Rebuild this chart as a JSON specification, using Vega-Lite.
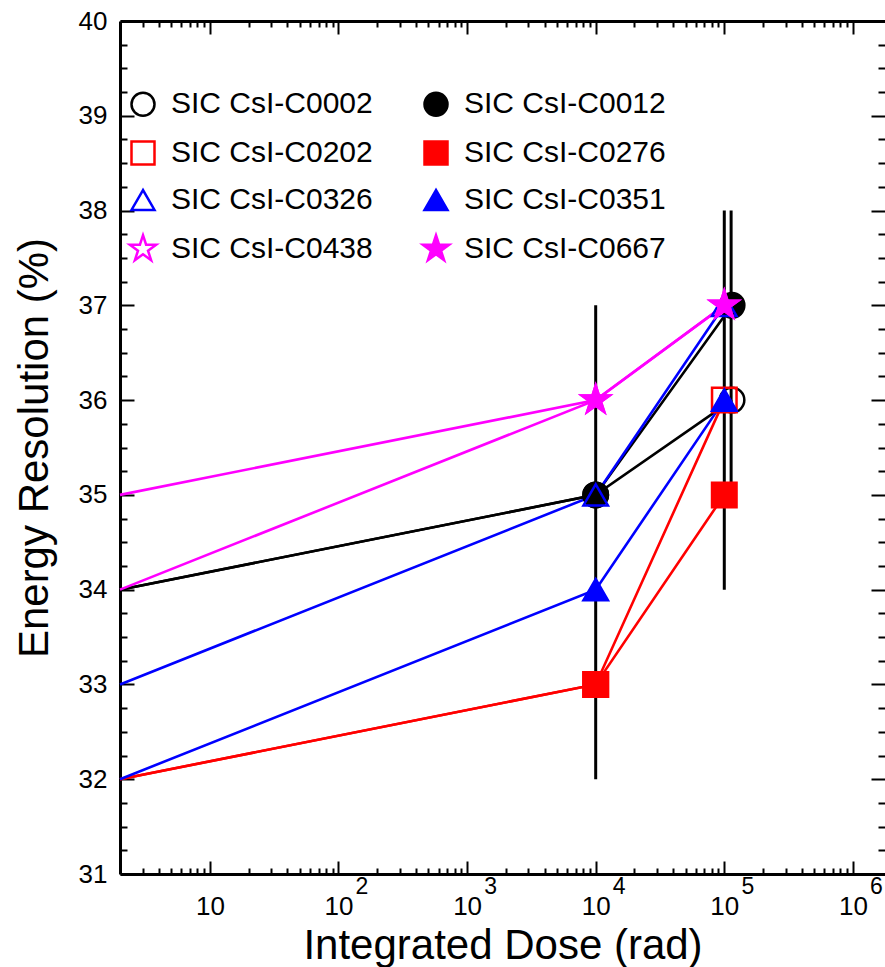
{
  "$schema": "https://vega.github.io/schema/vega-lite/v6.json",
  "autosize": "none",
  "width": 765,
  "height": 853,
  "padding": {"left": 120, "top": 21, "right": 0, "bottom": 93},
  "background": "white",
  "config": {
    "font": "Liberation Sans",
    "view": {"stroke": null},
    "axis": {
      "labelFont": "Liberation Sans",
      "titleFont": "Liberation Sans",
      "labelColor": "black",
      "titleColor": "black",
      "tickColor": "black",
      "domainColor": "black",
      "grid": false,
      "labelFlush": false,
      "labelOverlap": false,
      "labelBound": false,
      "titleFontWeight": "normal"
    },
    "legend": {"orient": "none", "legendX": 8, "legendY": 68, "columns": 2, "title": null, "labelFontSize": 30, "labelFont": "Liberation Sans", "labelColor": "black", "labelLimit": 400, "symbolSize": 529, "symbolStrokeWidth": 2.5, "labelOffset": 13, "rowPadding": 15, "columnPadding": 44, "padding": 0}
  },
  "datasets": {
    "pts": [
      {"series": "SIC CsI-C0002", "dose": 2, "res": 34},
      {"series": "SIC CsI-C0002", "dose": 10000, "res": 35},
      {"series": "SIC CsI-C0002", "dose": 115000, "res": 36},
      {"series": "SIC CsI-C0012", "dose": 2, "res": 34},
      {"series": "SIC CsI-C0012", "dose": 10000, "res": 35},
      {"series": "SIC CsI-C0012", "dose": 115000, "res": 37},
      {"series": "SIC CsI-C0202", "dose": 2, "res": 32},
      {"series": "SIC CsI-C0202", "dose": 10000, "res": 33},
      {"series": "SIC CsI-C0202", "dose": 100000, "res": 36},
      {"series": "SIC CsI-C0276", "dose": 2, "res": 32},
      {"series": "SIC CsI-C0276", "dose": 10000, "res": 33},
      {"series": "SIC CsI-C0276", "dose": 100000, "res": 35},
      {"series": "SIC CsI-C0326", "dose": 2, "res": 33},
      {"series": "SIC CsI-C0326", "dose": 10000, "res": 35},
      {"series": "SIC CsI-C0326", "dose": 100000, "res": 37},
      {"series": "SIC CsI-C0351", "dose": 2, "res": 32},
      {"series": "SIC CsI-C0351", "dose": 10000, "res": 34},
      {"series": "SIC CsI-C0351", "dose": 100000, "res": 36},
      {"series": "SIC CsI-C0438", "dose": 2, "res": 35},
      {"series": "SIC CsI-C0438", "dose": 10000, "res": 36},
      {"series": "SIC CsI-C0438", "dose": 100000, "res": 37},
      {"series": "SIC CsI-C0667", "dose": 2, "res": 34},
      {"series": "SIC CsI-C0667", "dose": 10000, "res": 36},
      {"series": "SIC CsI-C0667", "dose": 100000, "res": 37}
    ],
    "err": [
      {"dose": 10000, "lo": 32, "hi": 37},
      {"dose": 100000, "lo": 34, "hi": 38},
      {"dose": 113000, "lo": 35, "hi": 38}
    ]
  },
  "layer": [
    {
      "data": {"name": "err"},
      "mark": {"type": "rule", "strokeWidth": 3, "color": "black"},
      "encoding": {
        "x": {
          "field": "dose", "type": "quantitative",
          "scale": {"type": "log", "domain": [2, 1777000], "nice": false},
          "axis": {
            "orient": "bottom",
            "values": [10, 100, 1000, 10000, 100000, 1000000],
            "tickSize": -13, "tickWidth": 2, "domainWidth": 3,
            "labelExpr": "'10'", "labelFontSize": 26, "labelPadding": 32,
            "title": "Integrated Dose (rad)", "titleFontSize": 42, "titlePadding": 6
          }
        },
        "y": {
          "field": "lo", "type": "quantitative",
          "scale": {"domain": [31, 40], "nice": false, "zero": false},
          "axis": {
            "orient": "left",
            "values": [31, 32, 33, 34, 35, 36, 37, 38, 39, 40],
            "tickSize": -14, "tickWidth": 2, "domainWidth": 3,
            "labelFontSize": 26, "labelPadding": 27,
            "title": "Energy Resolution (%)", "titleFontSize": 42, "titlePadding": 22
          }
        },
        "y2": {"field": "hi"}
      }
    },
    {
      "data": {"name": "pts"},
      "mark": {"type": "line", "strokeWidth": 2.6},
      "encoding": {
        "x": {
          "field": "dose", "type": "quantitative",
          "scale": {"type": "log", "domain": [2, 1777000], "nice": false},
          "axis": {
            "orient": "bottom",
            "values": [3,4,5,6,7,8,9,20,30,40,50,60,70,80,90,200,300,400,500,600,700,800,900,2000,3000,4000,5000,6000,7000,8000,9000,20000,30000,40000,50000,60000,70000,80000,90000,200000,300000,400000,500000,600000,700000,800000,900000],
            "tickSize": -6, "tickWidth": 2, "labels": false, "domain": false, "title": null
          }
        },
        "y": {
          "field": "res", "type": "quantitative",
          "scale": {"domain": [31, 40], "nice": false, "zero": false},
          "axis": {
            "orient": "left",
            "values": [31.25,31.5,31.75,32.25,32.5,32.75,33.25,33.5,33.75,34.25,34.5,34.75,35.25,35.5,35.75,36.25,36.5,36.75,37.25,37.5,37.75,38.25,38.5,38.75,39.25,39.5,39.75],
            "tickSize": -7, "tickWidth": 2, "labels": false, "domain": false, "title": null
          }
        },
        "stroke": {
          "field": "series", "type": "nominal",
          "scale": {
            "domain": ["SIC CsI-C0002","SIC CsI-C0202","SIC CsI-C0326","SIC CsI-C0438","SIC CsI-C0012","SIC CsI-C0276","SIC CsI-C0351","SIC CsI-C0667"],
            "range": ["#000000","#ff0000","#0000ff","#ff00ff","#000000","#ff0000","#0000ff","#ff00ff"]
          }
        }
      }
    },
    {
      "data": {"name": "pts"},
      "transform": [{"filter": "datum.dose > 2"}],
      "mark": {"type": "point", "size": 600, "strokeWidth": 2.5, "opacity": 1},
      "encoding": {
        "x": {
          "field": "dose", "type": "quantitative",
          "scale": {"type": "log", "domain": [2, 1777000], "nice": false},
          "axis": {
            "orient": "bottom",
            "values": [100, 1000, 10000, 100000, 1000000],
            "ticks": false, "domain": false,
            "labelExpr": "format(round(log(datum.value)/LN10), 'd')",
            "labelFontSize": 23, "labelOffset": 23, "labelPadding": 1, "title": null
          }
        },
        "y": {
          "field": "res", "type": "quantitative",
          "scale": {"domain": [31, 40], "nice": false, "zero": false},
          "axis": {
            "orient": "right",
            "values": [31, 32, 33, 34, 35, 36, 37, 38, 39, 40],
            "tickSize": -14, "tickWidth": 2, "labels": false, "domain": false, "title": null
          }
        },
        "stroke": {
          "field": "series", "type": "nominal",
          "scale": {
            "domain": ["SIC CsI-C0002","SIC CsI-C0202","SIC CsI-C0326","SIC CsI-C0438","SIC CsI-C0012","SIC CsI-C0276","SIC CsI-C0351","SIC CsI-C0667"],
            "range": ["#000000","#ff0000","#0000ff","#ff00ff","#000000","#ff0000","#0000ff","#ff00ff"]
          }
        },
        "fill": {
          "field": "series", "type": "nominal",
          "scale": {
            "domain": ["SIC CsI-C0002","SIC CsI-C0202","SIC CsI-C0326","SIC CsI-C0438","SIC CsI-C0012","SIC CsI-C0276","SIC CsI-C0351","SIC CsI-C0667"],
            "range": ["transparent","transparent","transparent","transparent","#000000","#ff0000","#0000ff","#ff00ff"]
          }
        },
        "shape": {
          "field": "series", "type": "nominal",
          "scale": {
            "domain": ["SIC CsI-C0002","SIC CsI-C0202","SIC CsI-C0326","SIC CsI-C0438","SIC CsI-C0012","SIC CsI-C0276","SIC CsI-C0351","SIC CsI-C0667"],
            "range": ["circle","square","triangle-up","M0,-1.2L0.269,-0.371L1.141,-0.371L0.436,0.142L0.705,0.971L0,0.458L-0.705,0.971L-0.436,0.142L-1.141,-0.371L-0.269,-0.371Z","circle","square","triangle-up","M0,-1.2L0.269,-0.371L1.141,-0.371L0.436,0.142L0.705,0.971L0,0.458L-0.705,0.971L-0.436,0.142L-1.141,-0.371L-0.269,-0.371Z"]
          }
        }
      }
    },
    {
      "data": {"name": "pts"},
      "mark": {"type": "point", "opacity": 0},
      "encoding": {
        "x": {
          "field": "dose", "type": "quantitative",
          "scale": {"type": "log", "domain": [2, 1777000], "nice": false},
          "axis": {
            "orient": "top",
            "values": [10, 100, 1000, 10000, 100000, 1000000],
            "tickSize": -13, "tickWidth": 2, "domainWidth": 3, "labels": false, "title": null
          }
        },
        "y": {
          "field": "res", "type": "quantitative",
          "scale": {"domain": [31, 40], "nice": false, "zero": false},
          "axis": {
            "orient": "right",
            "values": [31.25,31.5,31.75,32.25,32.5,32.75,33.25,33.5,33.75,34.25,34.5,34.75,35.25,35.5,35.75,36.25,36.5,36.75,37.25,37.5,37.75,38.25,38.5,38.75,39.25,39.5,39.75],
            "tickSize": -7, "tickWidth": 2, "labels": false, "domain": false, "title": null
          }
        }
      }
    },
    {
      "data": {"name": "pts"},
      "mark": {"type": "point", "opacity": 0},
      "encoding": {
        "x": {
          "field": "dose", "type": "quantitative",
          "scale": {"type": "log", "domain": [2, 1777000], "nice": false},
          "axis": {
            "orient": "top",
            "values": [3,4,5,6,7,8,9,20,30,40,50,60,70,80,90,200,300,400,500,600,700,800,900,2000,3000,4000,5000,6000,7000,8000,9000,20000,30000,40000,50000,60000,70000,80000,90000,200000,300000,400000,500000,600000,700000,800000,900000],
            "tickSize": -6, "tickWidth": 2, "labels": false, "domain": false, "title": null
          }
        },
        "y": {
          "field": "res", "type": "quantitative",
          "scale": {"domain": [31, 40], "nice": false, "zero": false},
          "axis": null
        }
      }
    }
  ],
  "resolve": {
    "scale": {"x": "independent", "y": "independent"},
    "axis": {"x": "independent", "y": "independent"}
  }
}
